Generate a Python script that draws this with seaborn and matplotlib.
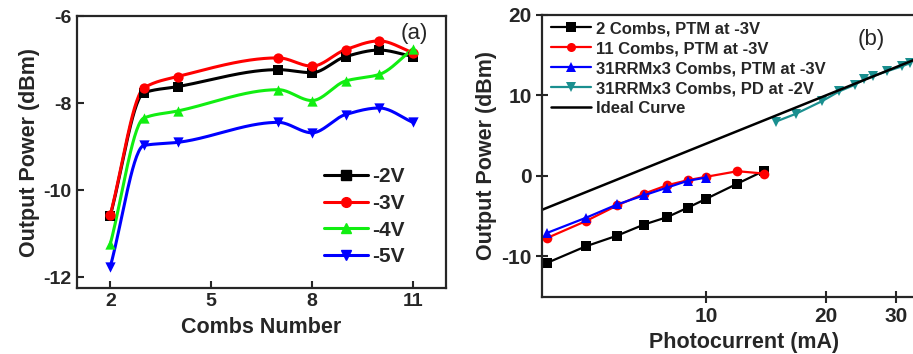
import numpy as np
import pandas as pd
import matplotlib
matplotlib.use('Agg')
import matplotlib.pyplot as plt
import seaborn as sns
from matplotlib.lines import Line2D
from matplotlib.ticker import ScalarFormatter, NullLocator

# panel (a): output power vs combs number at several bias voltages
combs = [2, 3, 4, 7, 8, 9, 10, 11]
p_2v = [-10.58, -7.76, -7.62, -7.23, -7.30, -6.93, -6.78, -6.93]
p_3v = [-10.56, -7.65, -7.39, -6.96, -7.15, -6.77, -6.57, -6.84]
p_4v = [-11.23, -8.34, -8.18, -7.69, -7.94, -7.49, -7.34, -6.75]
p_5v = [-11.75, -8.97, -8.90, -8.44, -8.68, -8.26, -8.11, -8.44]
volt_labels = ['-2V', '-3V', '-4V', '-5V']

# panel (b): output power vs photocurrent
i_2c = [4, 5, 6, 7, 8, 9, 10, 12, 14]
p_2c = [-10.8, -8.75, -7.41, -6.04, -5.12, -3.96, -2.87, -0.96, 0.63]
i_11c = [4, 5, 6, 7, 8, 9, 10, 12, 14]
p_11c = [-7.71, -5.62, -3.66, -2.21, -1.16, -0.54, -0.12, 0.58, 0.29]
i_31c = [4, 5, 6, 7, 8, 9, 10]
p_31c = [-7.08, -5.21, -3.54, -2.41, -1.45, -0.62, -0.21]
i_pd = [15.0, 16.8, 19.6, 21.6, 23.6, 25.0, 26.3, 28.5, 31.0, 32.5]
p_pd = [6.75, 7.7, 9.3, 10.5, 11.3, 12.0, 12.4, 13.0, 13.6, 14.0]
i_ideal = [3.89, 40]
p_ideal = [-4.2, 16.0]
b_labels = ['2 Combs, PTM at -3V', '11 Combs, PTM at -3V',
            '31RRMx3 Combs, PTM at -3V', '31RRMx3 Combs, PD at -2V', 'Ideal Curve']


def pchip(x, y, n=300):
    # shape preserving cubic used only to draw the smooth connecting curve
    x = np.asarray(x, float)
    y = np.asarray(y, float)
    h = np.diff(x)
    d = np.diff(y) / h
    m = np.zeros_like(y)
    for k in range(1, len(x) - 1):
        if d[k - 1] * d[k] > 0:
            w1 = 2 * h[k] + h[k - 1]
            w2 = h[k] + 2 * h[k - 1]
            m[k] = (w1 + w2) / (w1 / d[k - 1] + w2 / d[k])
    m[0] = d[0]
    m[-1] = d[-1]
    xs = np.linspace(x[0], x[-1], n)
    idx = np.clip(np.searchsorted(x, xs) - 1, 0, len(x) - 2)
    t = (xs - x[idx]) / h[idx]
    h00 = 2 * t**3 - 3 * t**2 + 1
    h10 = t**3 - 2 * t**2 + t
    h01 = -2 * t**3 + 3 * t**2
    h11 = t**3 - t**2
    ys = h00 * y[idx] + h10 * h[idx] * m[idx] + h01 * y[idx + 1] + h11 * h[idx] * m[idx + 1]
    return xs, ys


sns.set_style('ticks')
plt.rcParams['font.family'] = ['Liberation Sans', 'DejaVu Sans']
plt.rcParams['font.weight'] = 'bold'
plt.rcParams['axes.labelweight'] = 'bold'
plt.rcParams['axes.linewidth'] = 1.6
plt.rcParams['axes.unicode_minus'] = False

fig = plt.figure(figsize=(9.13, 3.54), dpi=100)
ax1 = fig.add_axes([0.084, 0.1856, 0.405, 0.769])
ax2 = fig.add_axes([0.594, 0.162, 0.442, 0.796])

# ---- panel (a)
colors_a = ['black', '#ff0000', '#11ee11', '#0000ff']
markers_a = ['s', 'o', '^', 'v']
series_a = [p_2v, p_3v, p_4v, p_5v]
handles = []
for vals, c, mk, lab in zip(series_a, colors_a, markers_a, volt_labels):
    xs, ys = pchip(combs, vals)
    ax1.plot(xs, ys, color=c, lw=2.2)
    sns.scatterplot(x=combs, y=vals, ax=ax1, color=c, marker=mk, s=55,
                    edgecolor=c, linewidth=0, zorder=3)
    handles.append(Line2D([], [], color=c, lw=2.2, marker=mk, markersize=7, label=lab))

ax1.set_xlim(1, 12)
ax1.set_ylim(-12.25, -6)
ax1.set_xticks([2, 5, 8, 11])
ax1.set_yticks([-12, -10, -8, -6])
ax1.tick_params(direction='in', length=5, width=1.5, labelsize=14)
ax1.set_xlabel('Combs Number', fontsize=15.5, labelpad=5)
ax1.set_ylabel('Output Power (dBm)', fontsize=15.5, labelpad=3)
ax1.legend(handles=handles, loc='upper left', bbox_to_anchor=(0.67, 0.445),
           frameon=False, prop={'size': 15, 'weight': 'bold'}, handlelength=2.1,
           handletextpad=0.2, labelspacing=0.37, borderpad=0, borderaxespad=0,
           numpoints=1)
ax1.text(0.95, 0.935, '(a)', transform=ax1.transAxes, fontsize=16,
         fontweight='normal', ha='right', va='center')

# ---- panel (b)
df_b = pd.concat([
    pd.DataFrame({'I': i_2c, 'P': p_2c, 'set': b_labels[0]}),
    pd.DataFrame({'I': i_11c, 'P': p_11c, 'set': b_labels[1]}),
    pd.DataFrame({'I': i_31c, 'P': p_31c, 'set': b_labels[2]}),
    pd.DataFrame({'I': i_pd, 'P': p_pd, 'set': b_labels[3]}),
])
colors_b = ['black', '#ff0000', '#0000ff', '#1a8f8f']
markers_b = ['s', 'o', '^', 'v']
sns.lineplot(data=df_b, x='I', y='P', hue='set', style='set',
             palette=dict(zip(b_labels[:4], colors_b)),
             markers=dict(zip(b_labels[:4], markers_b)), dashes=False,
             markersize=7, markeredgewidth=0, lw=1.6, ax=ax2, legend=False)
ax2.plot(i_ideal, p_ideal, color='black', lw=1.8)

ax2.set_xscale('log')
ax2.set_xlim(3.89, 40)
ax2.set_ylim(-15, 20)
ax2.set_xticks([10, 20, 30])
ax2.xaxis.set_major_formatter(ScalarFormatter())
ax2.xaxis.set_minor_locator(NullLocator())
ax2.set_yticks([-10, 0, 10, 20])
ax2.tick_params(direction='inout', length=8, width=1.5, labelsize=15)
ax2.set_xlabel('Photocurrent (mA)', fontsize=15.5, labelpad=4)
ax2.set_ylabel('Output Power (dBm)', fontsize=15.5, labelpad=3)

handles_b = [Line2D([], [], color=c, lw=1.6, marker=mk, markersize=6.5, markeredgewidth=0, label=lab)
             for c, mk, lab in zip(colors_b, markers_b, b_labels[:4])]
handles_b.append(Line2D([], [], color='black', lw=1.8, label=b_labels[4]))
ax2.legend(handles=handles_b, loc='upper left', bbox_to_anchor=(0.021, 0.978),
           frameon=False, prop={'size': 12, 'weight': 'bold'}, handlelength=2.4,
           handletextpad=0.3, labelspacing=0.3, borderpad=0, borderaxespad=0,
           numpoints=1)
ax2.text((871 - 542.3) / 403.7, 1 - (40 - 15) / 281.7, '(b)', transform=ax2.transAxes,
         fontsize=16, fontweight='normal', ha='center', va='center')

fig.savefig('out.png', dpi=100)
